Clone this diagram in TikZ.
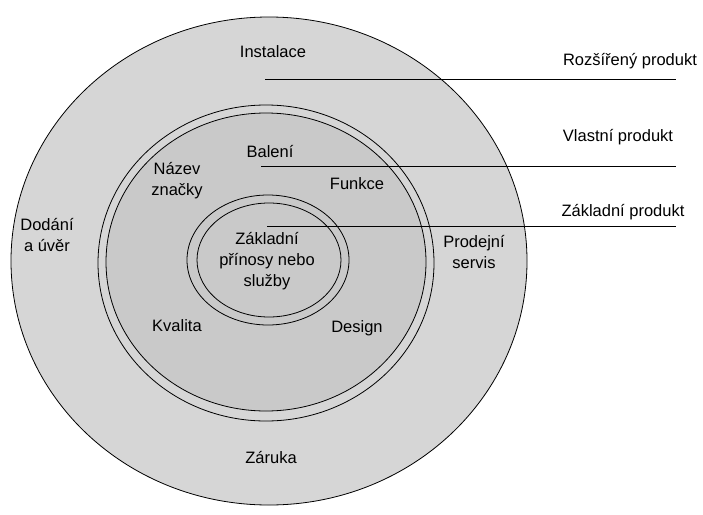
\documentclass[tikz,border=0pt]{standalone}
\usepackage{fontspec}
\setmainfont{Liberation Sans}
\begin{document}
\begin{tikzpicture}[x=1pt, y=-1pt,
  lbl/.style = {align=center, font=\fontsize{16.5}{21}\selectfont, inner sep=0pt},
  ring/.style = {draw=black, line width=0.8pt}]
\useasboundingbox (0,0) rectangle (703,514);
%layers of the product
\filldraw [ring, fill=gray!32] (269,261) ellipse (258 and 244);
\draw [ring] (266,263) ellipse (168 and 158);
\filldraw [ring, fill=gray!42] (266,262) ellipse (160 and 149);
\draw [ring] (268,260) ellipse (81 and 65);
\draw [ring] (269,260) ellipse (72 and 57);
%ends of the pointer lines
\coordinate (R1) at (265,79);
\coordinate (R2) at (676,79);
\coordinate (V1) at (261,166);
\coordinate (V2) at (676,166);
\coordinate (Z1) at (267,226);
\coordinate (Z2) at (676,226);
\draw [line width=0.8pt] (R1) -- (R2);
\draw [line width=0.8pt] (V1) -- (V2);
\draw [line width=0.8pt] (Z1) -- (Z2);
%labels on the right
\node [lbl] (rozsireny) at (630,61) {Rozšířený produkt};
\node [lbl] (vlastni) at (618,137) {Vlastní produkt};
\node [lbl] (zakladni) at (623,212) {Základní produkt};
%outer ring
\node [lbl] (instalace) at (273,52) {Instalace};
\node [lbl] (dodani) at (47,235) {Dodání\\a úvěr};
\node [lbl] (prodejni) at (474,252) {Prodejní\\servis};
\node [lbl] (zaruka) at (271,457) {Záruka};
%middle ring
\node [lbl] (baleni) at (270,152) {Balení};
\node [lbl] (nazev) at (177,181) {Název\\značky};
\node [lbl] (funkce) at (357,184) {Funkce};
\node [lbl] (kvalita) at (177,326) {Kvalita};
\node [lbl] (design) at (357,328) {Design};
%core
\node [lbl] (jadro) at (267,261) {Základní\\přínosy nebo\\služby};
\end{tikzpicture}
\end{document}
